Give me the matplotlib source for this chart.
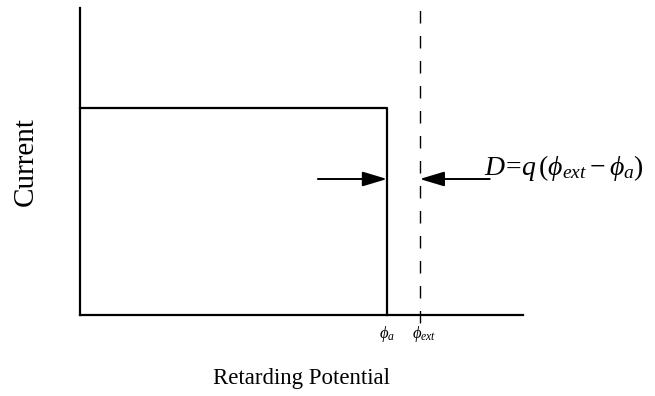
import matplotlib
matplotlib.use('Agg')
import matplotlib.pyplot as plt

# step current vs retarding potential
phi_a = 0.693
phi_ext = 0.767
i_sat = 0.674
arrow_y = 0.443
arrow_left_tail = 0.537
arrow_right_tail = 0.925

plt.rcParams['font.family'] = ['Liberation Serif', 'DejaVu Serif']
plt.rcParams['mathtext.fontset'] = 'custom'
plt.rcParams['mathtext.rm'] = 'Liberation Serif'
plt.rcParams['mathtext.it'] = 'Liberation Serif:italic'

fig = plt.figure(figsize=(6.55, 3.96), dpi=100)
ax = fig.add_axes([80 / 655, 1 - 315 / 396, 443 / 655, 307 / 396])
ax.set_xlim(0, 1)
ax.set_ylim(0, 1)

for s in ['top', 'right']:
    ax.spines[s].set_visible(False)
for s in ['left', 'bottom']:
    ax.spines[s].set_linewidth(1.6)
ax.set_xticks([])
ax.set_yticks([])

# ideal step curve
ax.plot([0, phi_a, phi_a], [i_sat, i_sat, 0], color='black', lw=1.6, clip_on=False)

# extraction potential
ax.plot([phi_ext, phi_ext], [-0.025, 0.995], color='black', lw=1.0,
        ls=(0, (9, 9)), clip_on=False)

# arrows pointing at the gap
arrow_props = dict(arrowstyle='-|>,head_length=1.5,head_width=0.45', color='black', lw=1.4,
                   shrinkA=0, shrinkB=0)
ax.annotate('', xy=(phi_a, arrow_y), xytext=(arrow_left_tail, arrow_y), arrowprops=arrow_props)
ax.annotate('', xy=(phi_ext, arrow_y), xytext=(arrow_right_tail, arrow_y), arrowprops=arrow_props,
            annotation_clip=False)

ax.text(0.912, arrow_y + 0.035, r'$D\!=\!q\,(\phi_{ext}-\phi_a)$', fontsize=20,
        ha='left', va='center', transform=ax.transAxes, clip_on=False)

ax.text(phi_a, -0.03, r'$\phi_a$', fontsize=12, ha='center', va='top')
ax.text(phi_ext + 0.01, -0.03, r'$\phi_{ext}$', fontsize=12, ha='center', va='top')

ax.set_xlabel('Retarding Potential', fontsize=16.5, labelpad=38)
ax.set_ylabel('Current', fontsize=21, labelpad=30)

plt.savefig('out.png', dpi=100)
